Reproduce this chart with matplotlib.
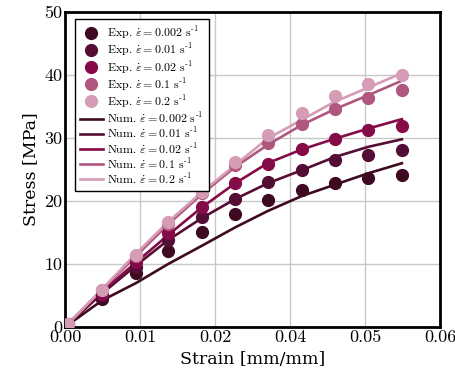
import numpy as np
from matplotlib import pyplot as plt

plt.rcParams['mathtext.fontset'] = 'cm'
plt.rcParams['axes.formatter.use_mathtext'] = True

rates = ["0.002", "0.01", "0.02", "0.1", "0.2"]
colors = ["#3d0a22", "#540d34", "#850a48", "#b0577f", "#d59cb5"]

# experimental points (strain, stress per rate)
exp_strain = [0.0004, 0.0059, 0.0114, 0.0165, 0.0219, 0.0272, 0.0324, 0.0379, 0.0432, 0.0485, 0.0539]
exp_002 = [0.5, 4.5, 8.5, 12.0, 15.1, 17.9, 20.1, 21.8, 22.9, 23.7, 24.1]
exp_01 = [0.5, 5.0, 9.6, 13.8, 17.5, 20.3, 23.0, 24.9, 26.5, 27.3, 28.1]
exp_02 = [0.5, 5.3, 10.3, 14.9, 19.0, 22.8, 25.8, 28.2, 29.9, 31.2, 31.9]
exp_1 = [0.5, 5.8, 11.2, 16.3, 21.3, 25.7, 29.2, 32.2, 34.6, 36.3, 37.6]
exp_2 = [0.5, 5.9, 11.4, 16.6, 21.5, 26.2, 30.5, 33.9, 36.7, 38.6, 40.0]

# numerical curves
num_strain = [0.0, 0.0059, 0.0114, 0.0165, 0.0219, 0.0272, 0.0324, 0.0379, 0.0432, 0.0485, 0.0539]
num_002 = [0.0, 4.2, 7.0, 10.0, 12.9, 15.8, 18.4, 20.8, 22.6, 24.4, 26.0]
num_01 = [0.0, 5.3, 9.8, 13.8, 17.3, 20.3, 22.8, 24.9, 27.0, 28.6, 29.8]
num_02 = [0.0, 5.6, 10.3, 14.6, 19.0, 22.8, 26.0, 28.2, 29.9, 31.5, 33.0]
num_1 = [0.0, 5.9, 11.3, 16.3, 21.1, 25.4, 28.9, 32.1, 34.6, 36.8, 39.1]
num_2 = [0.0, 6.0, 11.7, 16.7, 21.4, 25.7, 29.9, 32.9, 35.8, 38.0, 40.3]

exp_data = [exp_002, exp_01, exp_02, exp_1, exp_2]
num_data = [num_002, num_01, num_02, num_1, num_2]


def main():
    fig = plt.figure(figsize=(4.55, 3.78), dpi=100)
    ax = fig.add_axes([0.143, 0.135, 0.824, 0.833])

    exp_handles = []
    num_handles = []
    for i in range(len(rates)):
        ln, = ax.plot(num_strain, num_data[i], color=colors[i], lw=1.9, zorder=2,
                      label=r"Num. $\dot{\varepsilon}=" + rates[i] + r"$ s$^{\text{-}1}$")
        num_handles.append(ln)
    for i in range(len(rates)):
        pt, = ax.plot(exp_strain, exp_data[i], 'o', color=colors[i], ms=8.5, zorder=3,
                      label=r"Exp. $\dot{\varepsilon}=" + rates[i] + r"$ s$^{\text{-}1}$")
        exp_handles.append(pt)

    ax.set_xlim(0, 0.06)
    ax.set_ylim(0, 50)
    ax.set_xticks(np.linspace(0, 0.06, 6))
    ax.set_xticklabels(["%.2f" % v for v in np.linspace(0, 0.06, 6)], fontfamily='cmr10')
    ax.set_yticks([0, 10, 20, 30, 40, 50])
    ax.set_yticklabels(["0", "10", "20", "30", "40", "50"], fontfamily='cmr10')
    ax.tick_params(length=0, labelsize=13, pad=2)
    ax.grid(True, color='#c8c8c8', lw=1.0)
    ax.set_axisbelow(True)
    for s in ax.spines.values():
        s.set_linewidth(2.0)

    ax.set_xlabel("Strain [mm/mm]", fontfamily='DejaVu Serif', fontsize=12.5, labelpad=4)
    ax.set_ylabel("Stress [MPa]", fontfamily='DejaVu Serif', fontsize=12.5, labelpad=4)

    handles = exp_handles + num_handles
    leg = ax.legend(handles=handles, loc='upper left', bbox_to_anchor=(0.027, 0.977),
                    prop={'family': 'cmr10', 'size': 8.6}, frameon=True, fancybox=False,
                    framealpha=1, edgecolor='black', handlelength=1.9, handletextpad=0.4,
                    labelspacing=0.02, borderpad=0.4, borderaxespad=0)
    leg.get_frame().set_linewidth(1.0)

    fig.savefig("out.png", dpi=100)


if __name__ == '__main__':
    main()
